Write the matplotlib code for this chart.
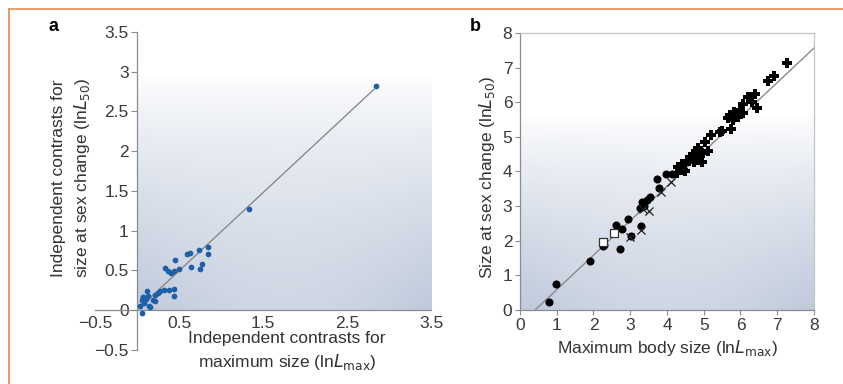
import numpy as np
import matplotlib
matplotlib.use("Agg")
import matplotlib.pyplot as plt
from matplotlib.lines import Line2D

plt.rcParams['font.family'] = ['Liberation Sans', 'DejaVu Sans']

# panel a: independent contrasts
a_x = [0.06, 0.04, 0.06, 0.08, 0.11, 0.12, 0.075, 0.13, 0.15, 0.19, 0.22, 0.25,
       0.21, 0.32, 0.33, 0.37, 0.41, 0.45, 0.44, 0.50, 0.385, 0.44, 0.44, 0.59,
       0.63, 0.64, 0.74, 0.77, 0.75, 0.84, 0.84, 1.335, 2.845, 0.14, 0.07, 0.27]
a_y = [-0.04, 0.05, 0.12, 0.09, 0.14, 0.24, 0.16, 0.17, 0.04, 0.125, 0.11, 0.22,
       0.19, 0.25, 0.53, 0.49, 0.47, 0.63, 0.49, 0.51, 0.25, 0.26, 0.18, 0.70,
       0.72, 0.54, 0.75, 0.58, 0.51, 0.79, 0.70, 1.27, 2.82, 0.05, 0.16, 0.24]
a_fit = (0.985, 0.0)
a_fit_range = [0.05, 2.82]
a_yticks = [-0.5, 0, 0.5, 1, 1.5, 2, 2.5, 3, 3.5]
a_ylabels = ['\u22120.5', '0', '0.5', '1', '1.5', '2', '2.5', '3', '3.5']
a_xticks = [-0.5, 0.5, 1.5, 2.5, 3.5]
a_xlabels = ['\u22120.5', '0.5', '1.5', '2.5', '3.5']

# panel b: raw sizes, by marker group
b_circ_x = [0.78, 0.98, 1.90, 2.25, 2.30, 2.61, 2.77, 2.72, 2.95, 3.02, 3.28, 3.27,
            3.31, 3.37, 3.45, 3.54, 3.72, 3.78, 3.97, 4.14]
b_circ_y = [0.24, 0.76, 1.42, 1.85, 1.87, 2.46, 2.33, 1.76, 2.62, 2.15, 2.44, 2.95,
            3.13, 2.99, 3.18, 3.25, 3.78, 3.52, 3.93, 3.93]
b_dia_x = [4.30, 4.44, 4.40, 4.28, 4.49, 4.63, 4.71, 4.72, 4.81, 4.85, 4.85, 4.73,
           4.94, 4.90, 4.95, 5.03, 5.12, 5.19, 5.44, 5.50, 5.73, 5.71, 5.76, 5.85,
           5.80, 5.90, 5.94, 5.99, 6.06, 6.08, 6.21, 6.30, 6.39, 6.46, 6.76, 6.91,
           7.27, 4.60, 4.68, 5.65, 5.83]
b_dia_y = [4.13, 4.05, 4.22, 3.95, 4.00, 4.43, 4.48, 4.51, 4.58, 4.67, 4.33, 4.26,
           4.26, 4.45, 4.53, 4.86, 4.58, 5.06, 5.15, 5.18, 5.22, 5.63, 5.62, 5.64,
           5.49, 5.68, 5.57, 5.78, 5.95, 5.70, 6.15, 6.02, 6.23, 5.83, 6.62, 6.76,
           7.13, 4.30, 4.38, 5.55, 5.72]
b_x_x = [3.00, 3.30, 3.36, 3.52, 3.83, 4.10]
b_x_y = [2.10, 2.32, 2.91, 2.87, 3.40, 3.71]
b_sq_x = [2.25, 2.57]
b_sq_y = [1.95, 2.23]
b_fit = (0.997, -0.41)
b_fit_range = [0.41, 8.0]
b_ticks = [0, 1, 2, 3, 4, 5, 6, 7, 8]

tick_col = '#3a3a3a'
spine_col = '#8c8c8c'


def shade(ax, x0, x1, y0, y1, reach):
    # bluish wash in the lower part, fading to white upwards
    n = 200
    xn, yn = np.meshgrid(np.linspace(0, 1, n), np.linspace(0, 1, n))
    t = np.clip(1 - yn / reach, 0, 1) ** 0.8 * (1 - 0.25 * np.sin(np.pi * xn) * (1 - yn))
    base = np.array([0.75, 0.79, 0.86])
    img = 1 - t[..., None] * (1 - base)
    ax.imshow(img, extent=(x0, x1, y0, y1), origin='lower', aspect='auto', zorder=0)


fig = plt.figure(figsize=(8.43, 3.84), dpi=100)

# ---- panel a
ax1 = fig.add_axes([0.1127, 0.0893, 0.3986, 0.8273])
shade(ax1, 0, 3.5, 0, 3.5, 0.85)
ax1.set_xlim(-0.5, 3.5)
ax1.set_ylim(-0.5, 3.5)
for s in ['top', 'right']:
    ax1.spines[s].set_visible(False)
ax1.spines['left'].set_position(('data', 0))
ax1.spines['bottom'].set_position(('data', 0))
for s in ['left', 'bottom']:
    ax1.spines[s].set_color(spine_col)
    ax1.spines[s].set_linewidth(0.9)
ax1.set_yticks(a_yticks)
ax1.set_yticklabels(a_ylabels)
ax1.set_xticks(a_xticks)
ax1.set_xticklabels(a_xlabels)
ax1.tick_params(axis='y', length=4, width=0.8, color=spine_col, labelsize=12.5,
                labelcolor=tick_col, pad=2)
ax1.tick_params(axis='x', direction='in', length=0, labelsize=12.5,
                labelcolor=tick_col, pad=4)
fx = np.array(a_fit_range)
ax1.plot(fx, a_fit[0] * fx + a_fit[1], color='#8a8a8a', lw=1.0, zorder=2)
ax1.scatter(a_x, a_y, s=17, color='#1f5fa6', zorder=3, linewidths=0)
ax1.text(0.571, -0.005, 'Independent contrasts for\nmaximum size (ln$\\mathit{L}_{\\rm max}$)',
         transform=ax1.transAxes, ha='center', va='center', fontsize=12.5,
         color='#333333', linespacing=1.4)
ax1.text(-0.071, 0.54, 'Independent contrasts for\nsize at sex change (ln$\\mathit{L}_{\\rm 50}$)',
         transform=ax1.transAxes, ha='center', va='center', rotation=90,
         fontsize=12.5, color='#333333', linespacing=1.4)

# ---- panel b
ax2 = fig.add_axes([0.6168, 0.1927, 0.3488, 0.7214])
shade(ax2, 0, 8, 0, 8, 0.7)
ax2.set_xlim(0, 8)
ax2.set_ylim(0, 8)
ax2.spines['left'].set_color(spine_col)
ax2.spines['bottom'].set_color(spine_col)
ax2.spines['top'].set_color('#c4c4c4')
ax2.spines['right'].set_color('#c4c4c4')
for s in ax2.spines.values():
    s.set_linewidth(0.9)
ax2.set_xticks(b_ticks)
ax2.set_yticks(b_ticks)
ax2.tick_params(length=3.5, width=0.8, color=spine_col, labelsize=12.5,
                labelcolor=tick_col, pad=2)
fx = np.array(b_fit_range)
ax2.plot(fx, b_fit[0] * fx + b_fit[1], color='#8a8a8a', lw=1.0, zorder=2)
ax2.scatter(b_circ_x, b_circ_y, s=34, color='black', zorder=3, linewidths=0)
ax2.scatter(b_dia_x, b_dia_y, s=55, marker='P', color='black', zorder=3, linewidths=0)
ax2.scatter(b_x_x, b_x_y, s=34, marker='x', color='#222222', zorder=3, linewidths=0.9)
ax2.scatter(b_sq_x, b_sq_y, s=38, marker='s', facecolor='white', edgecolor='#333333',
            zorder=4, linewidths=0.9)
ax2.text(0.503, -0.137, 'Maximum body size (ln$\\mathit{L}_{\\rm max}$)',
         transform=ax2.transAxes, ha='center', va='center', fontsize=12.5, color='#333333')
ax2.text(-0.112, 0.48, 'Size at sex change (ln$\\mathit{L}_{\\rm 50}$)',
         transform=ax2.transAxes, ha='center', va='center', rotation=90,
         fontsize=12.5, color='#333333')

# panel letters and orange frame
fig.text(0.063, 0.93, 'a', fontsize=13, fontweight='bold', ha='center', va='center')
fig.text(0.5635, 0.93, 'b', fontsize=13, fontweight='bold', ha='center', va='center')
oc = '#e8935a'
fig.add_artist(Line2D([9 / 843, 1.0], [1 - 9 / 384, 1 - 9 / 384], color=oc, lw=1.3,
                      transform=fig.transFigure))
fig.add_artist(Line2D([9 / 843, 9 / 843], [0, 1 - 9 / 384], color=oc, lw=1.3,
                      transform=fig.transFigure))

fig.savefig('out.png', dpi=100)
